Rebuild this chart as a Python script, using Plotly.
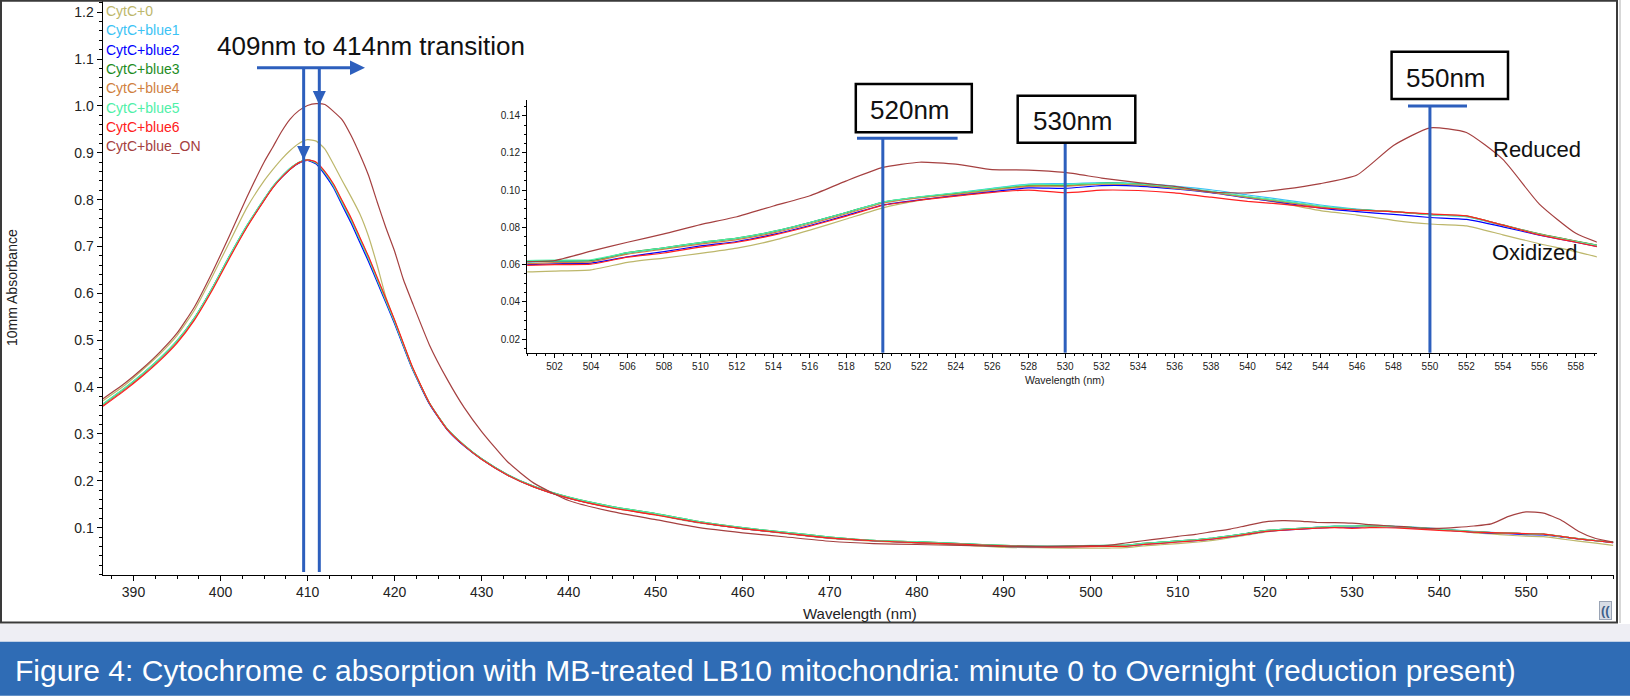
import plotly.graph_objects as go

W, H = 1630, 700

# ---------------- data ----------------
WL_SORET = [386.5, 389, 391, 393, 395, 397, 399, 401, 403, 405,
            406, 407, 408, 409, 410, 411, 412, 413, 414, 415,
            416, 417, 418, 419, 420, 421, 422, 424, 426, 428,
            430, 433, 436, 440, 445, 450, 455, 460, 465, 470,
            475, 480, 485, 490, 495]
WL_VIS = [500, 502, 504, 506, 508, 510, 512, 514, 516, 518,
          520, 522, 524, 526, 528, 530, 532, 534, 536, 538,
          540, 542, 544, 546, 548, 550, 552, 554, 556, 558, 560]

SERIES = ["CytC+0", "CytC+blue1", "CytC+blue2", "CytC+blue3",
          "CytC+blue4", "CytC+blue5", "CytC+blue6", "CytC+blue_ON"]
COLORS = ["#BDB76B", "#3CC3F5", "#0000FF", "#1E8C1E",
          "#D08040", "#50F0A8", "#FF2020", "#A54040"]

SORET_CYTC0 = [0.371, 0.404, 0.436, 0.470, 0.510, 0.564, 0.634, 0.708, 0.782, 0.840,
               0.864, 0.886, 0.905, 0.920, 0.928, 0.925, 0.908, 0.875, 0.840, 0.806,
               0.770, 0.722, 0.660, 0.592, 0.542, 0.492, 0.443, 0.365, 0.311, 0.275,
               0.246, 0.212, 0.187, 0.163, 0.142, 0.127, 0.110, 0.098, 0.087, 0.077,
               0.071, 0.067, 0.063, 0.058, 0.057]
SORET_BLUE1 = [0.364, 0.398, 0.428, 0.461, 0.499, 0.548, 0.610, 0.679, 0.744, 0.801,
               0.828, 0.849, 0.867, 0.879, 0.885, 0.878, 0.856, 0.828, 0.791, 0.755,
               0.714, 0.673, 0.628, 0.583, 0.538, 0.490, 0.442, 0.365, 0.311, 0.275,
               0.247, 0.213, 0.188, 0.164, 0.144, 0.129, 0.112, 0.099, 0.089, 0.079,
               0.072, 0.069, 0.066, 0.061, 0.060]
SORET_BLUE2 = [0.362, 0.396, 0.426, 0.459, 0.497, 0.546, 0.608, 0.677, 0.742, 0.799,
               0.826, 0.847, 0.865, 0.878, 0.884, 0.876, 0.853, 0.825, 0.787, 0.750,
               0.709, 0.668, 0.624, 0.580, 0.535, 0.487, 0.440, 0.364, 0.310, 0.274,
               0.246, 0.212, 0.187, 0.163, 0.143, 0.128, 0.111, 0.098, 0.088, 0.078,
               0.072, 0.068, 0.065, 0.060, 0.059]
SORET_BLUE3 = [0.363, 0.397, 0.427, 0.460, 0.498, 0.547, 0.609, 0.678, 0.743, 0.800,
               0.827, 0.848, 0.866, 0.879, 0.885, 0.878, 0.857, 0.830, 0.793, 0.757,
               0.716, 0.675, 0.630, 0.585, 0.540, 0.491, 0.443, 0.366, 0.312, 0.276,
               0.247, 0.213, 0.188, 0.165, 0.145, 0.130, 0.113, 0.100, 0.090, 0.080,
               0.073, 0.070, 0.066, 0.062, 0.060]
SORET_BLUE4 = [0.362, 0.396, 0.426, 0.459, 0.497, 0.546, 0.608, 0.677, 0.742, 0.800,
               0.827, 0.848, 0.866, 0.879, 0.885, 0.879, 0.858, 0.831, 0.795, 0.759,
               0.718, 0.677, 0.632, 0.587, 0.541, 0.492, 0.444, 0.366, 0.311, 0.275,
               0.246, 0.212, 0.187, 0.163, 0.143, 0.128, 0.111, 0.098, 0.088, 0.078,
               0.072, 0.068, 0.065, 0.060, 0.059]
SORET_BLUE5 = [0.364, 0.398, 0.428, 0.461, 0.499, 0.548, 0.610, 0.679, 0.744, 0.801,
               0.828, 0.849, 0.867, 0.880, 0.885, 0.878, 0.857, 0.829, 0.792, 0.756,
               0.715, 0.674, 0.629, 0.584, 0.539, 0.490, 0.442, 0.366, 0.312, 0.276,
               0.247, 0.213, 0.188, 0.165, 0.145, 0.130, 0.113, 0.100, 0.090, 0.080,
               0.073, 0.070, 0.066, 0.062, 0.060]
SORET_BLUE6 = [0.359, 0.393, 0.423, 0.456, 0.494, 0.543, 0.605, 0.674, 0.740, 0.798,
               0.825, 0.847, 0.865, 0.879, 0.885, 0.880, 0.860, 0.833, 0.797, 0.761,
               0.720, 0.679, 0.634, 0.589, 0.543, 0.494, 0.445, 0.366, 0.311, 0.275,
               0.246, 0.212, 0.187, 0.163, 0.142, 0.127, 0.111, 0.098, 0.088, 0.078,
               0.072, 0.068, 0.065, 0.061, 0.059]
SORET_ON = [0.375, 0.408, 0.439, 0.474, 0.515, 0.571, 0.643, 0.722, 0.804, 0.880,
            0.912, 0.945, 0.972, 0.990, 1.001, 1.005, 1.003, 0.988, 0.970, 0.937,
            0.897, 0.852, 0.795, 0.740, 0.690, 0.630, 0.582, 0.490, 0.418, 0.356,
            0.305, 0.240, 0.195, 0.158, 0.134, 0.117, 0.100, 0.089, 0.080, 0.071,
            0.066, 0.064, 0.062, 0.060, 0.060]

VIS_CYTC0 = [0.0560, 0.0565, 0.0572, 0.0612, 0.0635, 0.0660, 0.0688, 0.0730, 0.0785, 0.0845,
             0.0905, 0.0945, 0.0975, 0.0998, 0.1020, 0.1022, 0.1032, 0.1025, 0.1010, 0.0990,
             0.0960, 0.0928, 0.0890, 0.0866, 0.0838, 0.0818, 0.0808, 0.0760, 0.0712, 0.0670,
             0.0620]
VIS_BLUE1 = [0.0612, 0.0618, 0.0620, 0.0660, 0.0688, 0.0715, 0.0740, 0.0776, 0.0825, 0.0880,
             0.0935, 0.0962, 0.0984, 0.1010, 0.1033, 0.1035, 0.1040, 0.1036, 0.1022, 0.1002,
             0.0974, 0.0948, 0.0920, 0.0898, 0.0884, 0.0868, 0.0857, 0.0810, 0.0762, 0.0724,
             0.0688]
VIS_BLUE2 = [0.0598, 0.0604, 0.0608, 0.0642, 0.0670, 0.0700, 0.0724, 0.0762, 0.0810, 0.0864,
             0.0920, 0.0948, 0.0970, 0.0992, 0.1012, 0.1010, 0.1024, 0.1022, 0.1006, 0.0986,
             0.0958, 0.0932, 0.0903, 0.0884, 0.0870, 0.0853, 0.0843, 0.0803, 0.0758, 0.0720,
             0.0682]
VIS_BLUE3 = [0.0615, 0.0620, 0.0622, 0.0664, 0.0690, 0.0718, 0.0742, 0.0778, 0.0826, 0.0880,
             0.0935, 0.0963, 0.0983, 0.1005, 0.1026, 0.1026, 0.1037, 0.1032, 0.1014, 0.0992,
             0.0964, 0.0939, 0.0912, 0.0895, 0.0884, 0.0870, 0.0860, 0.0813, 0.0765, 0.0726,
             0.0690]
VIS_BLUE4 = [0.0603, 0.0610, 0.0615, 0.0656, 0.0683, 0.0710, 0.0734, 0.0770, 0.0818, 0.0873,
             0.0930, 0.0958, 0.0978, 0.1002, 0.1022, 0.1022, 0.1033, 0.1028, 0.1010, 0.0988,
             0.0960, 0.0936, 0.0910, 0.0894, 0.0884, 0.0870, 0.0860, 0.0812, 0.0764, 0.0725,
             0.0688]
VIS_BLUE5 = [0.0620, 0.0624, 0.0626, 0.0664, 0.0690, 0.0718, 0.0742, 0.0778, 0.0826, 0.0880,
             0.0936, 0.0964, 0.0985, 0.1008, 0.1030, 0.1030, 0.1038, 0.1033, 0.1016, 0.0994,
             0.0966, 0.0941, 0.0914, 0.0896, 0.0884, 0.0868, 0.0858, 0.0811, 0.0763, 0.0724,
             0.0688]
VIS_BLUE6 = [0.0595, 0.0600, 0.0602, 0.0640, 0.0662, 0.0694, 0.0720, 0.0758, 0.0806, 0.0860,
             0.0918, 0.0946, 0.0968, 0.0988, 0.1000, 0.0986, 0.1000, 0.0998, 0.0985, 0.0962,
             0.0940, 0.0924, 0.0905, 0.0893, 0.0884, 0.0872, 0.0862, 0.0812, 0.0760, 0.0720,
             0.0680]
VIS_ON = [0.0615, 0.0622, 0.0672, 0.0720, 0.0765, 0.0815, 0.0857, 0.0915, 0.0970, 0.1050,
          0.1122, 0.1150, 0.1140, 0.1110, 0.1108, 0.1095, 0.1065, 0.1040, 0.1020, 0.0990,
          0.0985, 0.1005, 0.1035, 0.1081, 0.1240, 0.1335, 0.1310, 0.1165, 0.0925, 0.0768,
          0.0690]

SORET_ALL = [SORET_CYTC0, SORET_BLUE1, SORET_BLUE2, SORET_BLUE3,
             SORET_BLUE4, SORET_BLUE5, SORET_BLUE6, SORET_ON]
VIS_ALL = [VIS_CYTC0, VIS_BLUE1, VIS_BLUE2, VIS_BLUE3,
           VIS_BLUE4, VIS_BLUE5, VIS_BLUE6, VIS_ON]

MAIN_XTICKS = list(range(390, 551, 10))
MAIN_YTICKS = [0.1, 0.2, 0.3, 0.4, 0.5, 0.6, 0.7, 0.8, 0.9, 1.0, 1.1, 1.2]
INSET_XTICKS = list(range(502, 559, 2))
INSET_YTICKS = [0.02, 0.04, 0.06, 0.08, 0.10, 0.12, 0.14]

TRANSITION_NM = [409.55, 411.35]   # arrow/line positions (main axis)
BAND_NM = [520, 530, 550]          # marker lines in inset

# ---------------- layout geometry (pixels) ----------------
MX0, MX1, MYT, MYB = 102.5, 1614.0, 1.0, 574.5
MXR = [386.44, 560.1]
MYR = [0.0, 1.224]
IX0, IX1, IYT, IYB = 527.2, 1596.8, 100.0, 352.7
IXR = [500.5, 559.15]
IYR = [0.01264, 0.14844]


def pxx(x):
    return x / W


def pxy(y):
    return 1 - y / H


def main_nm_to_px(nm):
    return MX0 + (nm - MXR[0]) / (MXR[1] - MXR[0]) * (MX1 - MX0)


FN = "Liberation Sans, Arial, sans-serif"
FR = "Liberation Sans, Arial, Helvetica, sans-serif"
BLUE = "#2D5FBD"

fig = go.Figure()
for name, col, s, v in zip(SERIES, COLORS, SORET_ALL, VIS_ALL):
    assert len(s) == len(WL_SORET) and len(v) == len(WL_VIS)
    xs = WL_SORET + WL_VIS
    ys = s + v
    for xa, ya in (("x", "y"), ("x2", "y2")):
        fig.add_trace(go.Scatter(x=xs, y=ys, mode="lines", name=name,
                                 line=dict(color=col, width=1.2, shape="spline", smoothing=0.5),
                                 xaxis=xa, yaxis=ya, showlegend=False, hoverinfo="skip"))

axis_common = dict(showline=True, linecolor="#000", linewidth=1, ticks="outside",
                   tickcolor="#000", tickwidth=1, showgrid=False, zeroline=False,
                   fixedrange=True)

fig.update_layout(
    width=W, height=H, margin=dict(l=0, r=0, t=0, b=0),
    paper_bgcolor="white", plot_bgcolor="white",
    xaxis=dict(domain=[pxx(MX0), pxx(MX1)], range=MXR, anchor="y",
               tickvals=MAIN_XTICKS, ticklen=5,
               minor=dict(ticks="outside", ticklen=3, dtick=2.5, tick0=390, tickcolor="#000"),
               tickfont=dict(family=FN, size=14, color="#222"), **axis_common),
    yaxis=dict(domain=[pxy(MYB), pxy(MYT)], range=MYR, anchor="x",
               tickvals=MAIN_YTICKS, ticktext=[f"{t:.1f}" for t in MAIN_YTICKS], ticklen=5,
               minor=dict(ticks="outside", ticklen=3, dtick=0.02, tick0=0, tickcolor="#000"),
               tickfont=dict(family=FN, size=14, color="#222"), **axis_common),
    xaxis2=dict(domain=[pxx(IX0), pxx(IX1)], range=IXR, anchor="y2",
                tickvals=INSET_XTICKS, ticklen=4,
                minor=dict(ticks="outside", ticklen=2, dtick=0.5, tick0=500, tickcolor="#000"),
                tickfont=dict(family=FN, size=10, color="#222"), **axis_common),
    yaxis2=dict(domain=[pxy(IYB), pxy(IYT)], range=IYR, anchor="x2",
                tickvals=INSET_YTICKS, ticktext=[f"{t:.2f}" for t in INSET_YTICKS], ticklen=4,
                minor=dict(ticks="outside", ticklen=2, dtick=0.005, tick0=0, tickcolor="#000"),
                tickfont=dict(family=FN, size=10, color="#222"), **axis_common),
)

shapes = []
# chart frame and footer band
shapes.append(dict(type="rect", xref="paper", yref="paper", x0=pxx(1), x1=pxx(1617),
                   y0=pxy(622.5), y1=pxy(0.8), line=dict(color="#3a3a3a", width=2)))
shapes.append(dict(type="line", xref="paper", yref="paper", x0=pxx(1620), x1=pxx(1620),
                   y0=pxy(0), y1=pxy(623), line=dict(color="#b0b0b0", width=1)))
shapes.append(dict(type="rect", xref="paper", yref="paper", x0=0, x1=1,
                   y0=pxy(641.7), y1=pxy(624), fillcolor="#EEEEF4", line=dict(width=0)))
shapes.append(dict(type="rect", xref="paper", yref="paper", x0=0, x1=1,
                   y0=pxy(695.7), y1=pxy(641.7), fillcolor="#2F6CB5", line=dict(width=0)))

# transition arrows
shapes.append(dict(type="line", xref="paper", yref="paper", x0=pxx(257), x1=pxx(352),
                   y0=pxy(67.7), y1=pxy(67.7), line=dict(color=BLUE, width=3)))
shapes.append(dict(type="path", xref="paper", yref="paper",
                   path=f"M {pxx(350)},{pxy(60.5)} L {pxx(365)},{pxy(67.7)} L {pxx(350)},{pxy(74.9)} Z",
                   fillcolor=BLUE, line=dict(width=0)))
tips = [160.0, 105.0]
for nm, tip in zip(TRANSITION_NM, tips):
    xp = main_nm_to_px(nm)
    shapes.append(dict(type="line", xref="paper", yref="paper", x0=pxx(xp), x1=pxx(xp),
                       y0=pxy(67.7), y1=pxy(572), line=dict(color=BLUE, width=3)))
    shapes.append(dict(type="path", xref="paper", yref="paper",
                       path=f"M {pxx(xp-6.5)},{pxy(tip-14)} L {pxx(xp+6.5)},{pxy(tip-14)} L {pxx(xp)},{pxy(tip)} Z",
                       fillcolor=BLUE, line=dict(width=0)))

# inset band markers
band_tops = [138.3, 142.7, 106.0]
for nm, top in zip(BAND_NM, band_tops):
    shapes.append(dict(type="line", xref="x2", yref="paper", x0=nm, x1=nm,
                       y0=pxy(top), y1=pxy(IYB), line=dict(color=BLUE, width=3)))
shapes.append(dict(type="line", xref="paper", yref="paper", x0=pxx(857), x1=pxx(957.6),
                   y0=pxy(138.3), y1=pxy(138.3), line=dict(color=BLUE, width=3)))
shapes.append(dict(type="line", xref="paper", yref="paper", x0=pxx(1408), x1=pxx(1467),
                   y0=pxy(106), y1=pxy(106), line=dict(color=BLUE, width=3)))
# label boxes
boxes = [(855.8, 84.0, 971.8, 132.3), (1017.7, 95.7, 1135.3, 142.7), (1391.6, 51.7, 1508.0, 99.0)]
for x0, y0, x1, y1 in boxes:
    shapes.append(dict(type="rect", xref="paper", yref="paper", x0=pxx(x0), x1=pxx(x1),
                       y0=pxy(y1), y1=pxy(y0), fillcolor="white", line=dict(color="#000", width=2.5)))

annotations = []


def txt(text, x, y, size, family=FR, color="#111", xanchor="center", **kw):
    annotations.append(dict(text=text, x=pxx(x), y=pxy(y), xref="paper", yref="paper",
                            showarrow=False, xanchor=xanchor, yanchor="middle",
                            font=dict(family=family, size=size, color=color), **kw))


# legend (coloured text)
for i, (name, col) in enumerate(zip(SERIES, COLORS)):
    txt(name, 104, 11 + i * 19.33, 14, family=FN, color=col, xanchor="left")

txt("409nm to 414nm transition", 370.5, 46, 26)
txt("520nm", 910, 110, 26)
txt("530nm", 1073, 121, 26)
txt("550nm", 1446, 78, 26)
txt("Reduced", 1536.7, 149.5, 22)
txt("Oxidized", 1535, 252.5, 22)

# axis titles
txt("Wavelength (nm)", 860, 613, 15, family=FN, color="#222")
txt("Wavelength (nm)", 1065, 380, 10.5, family=FN, color="#222")
annotations.append(dict(text="10mm Absorbance", x=pxx(12), y=pxy(288), xref="paper", yref="paper",
                        showarrow=False, textangle=-90, xanchor="center", yanchor="middle",
                        font=dict(family=FN, size=14, color="#222")))

# scroll button
txt("<b>((</b>", 1605, 610, 13, family=FN, color="#3D5F8A", bgcolor="#D8DDE6",
    bordercolor="#9AA4B5", borderwidth=1, borderpad=1)

# caption
txt("Figure 4: Cytochrome c absorption with MB-treated LB10 mitochondria: minute 0 to Overnight (reduction present)",
    12.5, 670, 30, color="white", xanchor="left")

fig.update_layout(shapes=shapes, annotations=annotations, hovermode=False)
fig.write_html("out.html", config={"displayModeBar": False, "staticPlot": True},
               post_script="document.body.style.margin='0';document.body.style.overflow='hidden';")
